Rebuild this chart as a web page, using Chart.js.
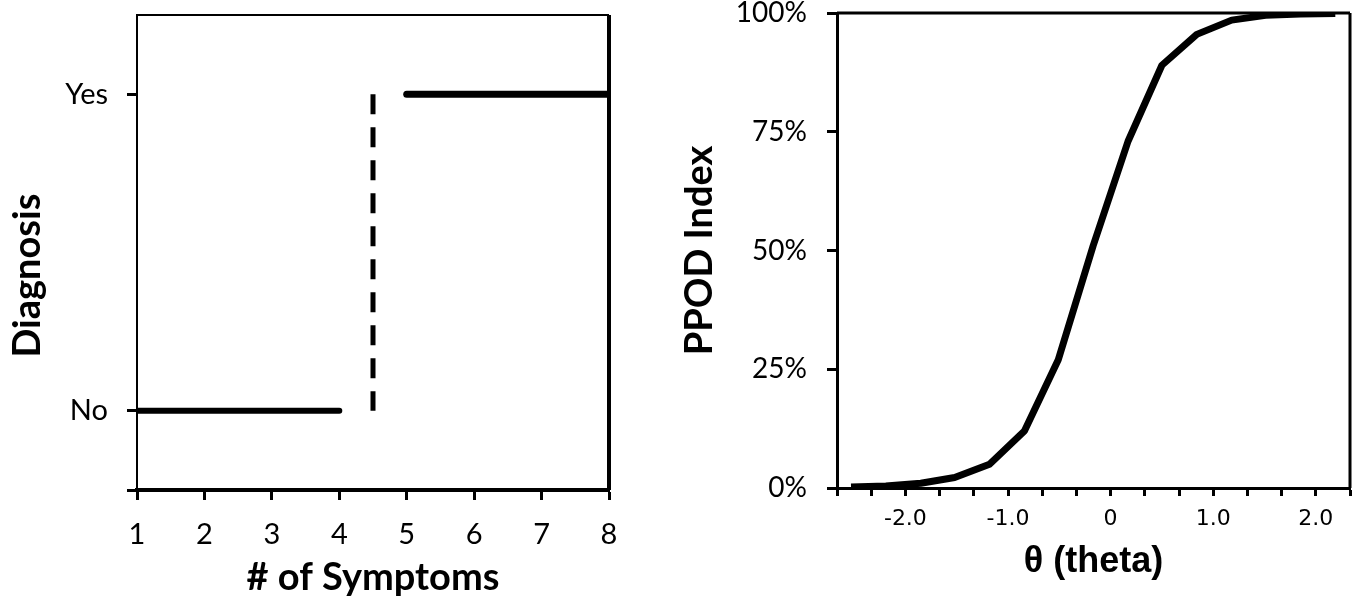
<!DOCTYPE html>
<html>
<head>
<meta charset="utf-8">
<script src="https://cdn.jsdelivr.net/npm/chart.js@4.4.1/dist/chart.umd.min.js"></script>
<style>
  html, body { margin: 0; padding: 0; background: #fff; }
  body { width: 1360px; height: 614px; position: relative; overflow: hidden; }
  .panel { position: absolute; top: 0; height: 614px; }
  #left { left: 0; width: 650px; }
  #right { left: 650px; width: 710px; }
</style>
</head>
<body>
<div class="panel" id="left"><canvas id="diagnosisChart"></canvas></div>
<div class="panel" id="right"><canvas id="ppodChart"></canvas></div>
<script>
// left panel: diagnosis as a hard cut on symptom count
const symptomTicks = [1, 2, 3, 4, 5, 6, 7, 8];
const diagnosisLabels = ['No', 'Yes'];
const noDiagnosisX = [1, 4];
const yesDiagnosisX = [5, 8];
const cutoffX = 4.5;

// right panel: PPOD index along theta
const thetaValues = [-2.53, -2.19, -1.85, -1.52, -1.18, -0.84, -0.51, -0.17, 0.17, 0.5, 0.84, 1.18, 1.51, 1.85, 2.19];
const ppodValues = [0.2, 0.4, 1.0, 2.2, 5, 12, 27, 51, 73, 89, 95.5, 98.5, 99.5, 99.8, 99.9];
const ppodTicks = [0, 25, 50, 75, 100];
const thetaLabels = [-2, -1, 0, 1, 2];
const thetaMin = -8 / 3;
const thetaMax = 7 / 3;
const thetaStep = 1 / 3;

const BLACK = '#000';

// top + right edges of the plot box
const framePlugin = {
  id: 'frame',
  afterDatasetsDraw(chart, args, opts) {
    const { ctx, chartArea: { left, top, right, bottom } } = chart;
    ctx.save();
    ctx.strokeStyle = BLACK;
    ctx.lineWidth = opts.topWidth;
    ctx.beginPath();
    ctx.moveTo(left, top);
    ctx.lineTo(right, top);
    ctx.stroke();
    ctx.lineWidth = opts.rightWidth;
    ctx.beginPath();
    ctx.moveTo(right, top);
    ctx.lineTo(right, bottom);
    ctx.stroke();
    ctx.restore();
  },
};

const tickGrid = (len) => ({
  drawOnChartArea: false,
  tickLength: len,
  tickWidth: 3,
  tickColor: BLACK,
});

// fixed axis width, and no extra room above/below for the labels
const fixWidth = (w) => (s) => {
  s.width = w;
  s.paddingTop = 0;
  s.paddingBottom = 0;
};

const noY = diagnosisLabels.indexOf('No');
const yesY = diagnosisLabels.indexOf('Yes');

new Chart(document.getElementById('diagnosisChart'), {
  type: 'line',
  data: {
    datasets: [
      {
        data: noDiagnosisX.map((x) => ({ x, y: noY })),
        borderColor: BLACK,
        borderWidth: 6,
        borderCapStyle: 'round',
        pointRadius: 0,
      },
      {
        data: yesDiagnosisX.map((x) => ({ x, y: yesY })),
        borderColor: BLACK,
        borderWidth: 7,
        borderCapStyle: 'round',
        pointRadius: 0,
      },
      {
        data: [{ x: cutoffX, y: yesY }, { x: cutoffX, y: noY }],
        borderColor: BLACK,
        borderWidth: 5,
        borderDash: [20, 13],
        pointRadius: 0,
      },
    ],
  },
  options: {
    responsive: true,
    maintainAspectRatio: false,
    animation: false,
    devicePixelRatio: 1,
    layout: { padding: { top: 15, right: 41, left: 0, bottom: 0 } },
    plugins: {
      legend: { display: false },
      tooltip: { enabled: false },
      frame: { topWidth: 2, rightWidth: 4 },
    },
    scales: {
      x: {
        type: 'linear',
        min: 1,
        max: 8,
        afterBuildTicks: (s) => { s.ticks = symptomTicks.map((v) => ({ value: v })); },
        afterFit: (s) => { s.height = 124; },
        grid: tickGrid(10),
        border: { color: BLACK, width: 4 },
        ticks: {
          color: BLACK,
          autoSkip: false,
          maxRotation: 0,
          padding: 17,
          font: { family: 'Lato', size: 29 },
        },
        title: {
          display: true,
          text: '# of Symptoms',
          color: BLACK,
          font: { family: 'Lato', size: 38, weight: 'bold', lineHeight: 1 },
          padding: { top: 0, bottom: 17 },
        },
      },
      y: {
        type: 'linear',
        min: -0.25,
        max: 1.25,
        afterBuildTicks: (s) => { s.ticks = [-0.25, noY, yesY].map((v) => ({ value: v })); },
        afterFit: fixWidth(137),
        grid: tickGrid(10),
        border: { color: BLACK, width: 2 },
        ticks: {
          color: BLACK,
          padding: 19,
          font: { family: 'Lato', size: 29 },
          callback: (v) => diagnosisLabels[v] ?? '',
        },
        title: {
          display: true,
          // trailing spaces push the title a bit down, as in the original
          text: 'Diagnosis' + '\u00a0'.repeat(5),
          color: BLACK,
          font: { family: 'Lato', size: 38, weight: 'bold', lineHeight: 1 },
          padding: { top: 9, bottom: 0 },
        },
      },
    },
  },
  plugins: [framePlugin],
});

new Chart(document.getElementById('ppodChart'), {
  type: 'line',
  data: {
    datasets: [
      {
        data: thetaValues.map((x, i) => ({ x, y: ppodValues[i] })),
        borderColor: BLACK,
        borderWidth: 7,
        borderJoinStyle: 'round',
        tension: 0,
        pointRadius: 0,
      },
    ],
  },
  options: {
    responsive: true,
    maintainAspectRatio: false,
    animation: false,
    devicePixelRatio: 1,
    layout: { padding: { top: 13, right: 8, left: 0, bottom: 0 } },
    plugins: {
      legend: { display: false },
      tooltip: { enabled: false },
      frame: { topWidth: 3, rightWidth: 3 },
    },
    scales: {
      x: {
        type: 'linear',
        min: thetaMin,
        max: thetaMax,
        afterBuildTicks: (s) => {
          const n = Math.round((thetaMax - thetaMin) / thetaStep);
          const t = [];
          for (let k = 0; k <= n; k++) t.push({ value: thetaMin + k * thetaStep });
          s.ticks = t;
        },
        afterFit: (s) => { s.height = 126; },
        grid: tickGrid(8),
        border: { color: BLACK, width: 3 },
        ticks: {
          color: BLACK,
          autoSkip: false,
          maxRotation: 0,
          padding: 10,
          font: { family: 'DejaVu Sans', size: 22 },
          callback: (v) => {
            const r = Math.round(v);
            if (Math.abs(v - r) > 1e-6 || !thetaLabels.includes(r)) return '';
            return r === 0 ? '0' : r.toFixed(1);
          },
        },
        title: {
          display: true,
          text: 'θ (theta)',
          color: BLACK,
          font: { family: 'Liberation Sans', size: 36, weight: 'bold', lineHeight: 1 },
          padding: { top: 0, bottom: 34 },
        },
      },
      y: {
        type: 'linear',
        min: 0,
        max: 100,
        afterBuildTicks: (s) => { s.ticks = ppodTicks.map((v) => ({ value: v })); },
        afterFit: fixWidth(187),
        grid: tickGrid(10),
        border: { color: BLACK, width: 3 },
        ticks: {
          color: BLACK,
          padding: 20,
          font: { family: 'Lato', size: 28, lineHeight: 1 },
          callback: (v) => v + '%',
        },
        title: {
          display: true,
          text: 'PPOD Index',
          color: BLACK,
          font: { family: 'Lato', size: 38, weight: 'bold', lineHeight: 1 },
          padding: { top: 31, bottom: 0 },
        },
      },
    },
  },
  plugins: [framePlugin],
});
</script>
</body>
</html>
